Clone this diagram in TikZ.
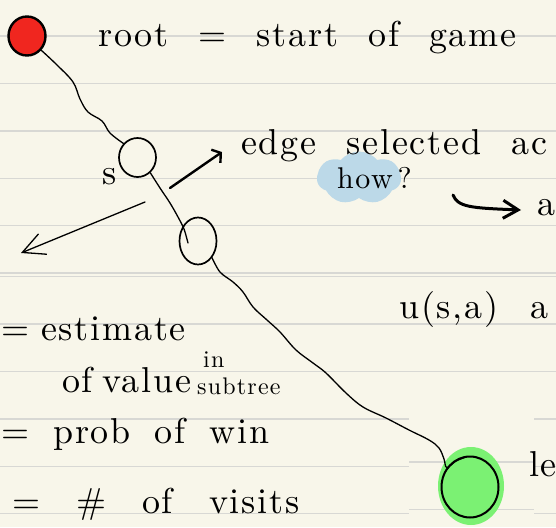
\documentclass[tikz,border=0pt]{standalone}
\usepackage{fontspec}
\usetikzlibrary{positioning, calc, shapes.geometric, shapes.symbols, arrows.meta}
\newfontfamily\hand{lmroman10-regular.otf}[LetterSpace=5]
\definecolor{paper}{HTML}{F8F6EA}
\definecolor{ruling}{HTML}{D8D8D4}
\definecolor{rootred}{HTML}{F0261F}
\definecolor{leafgreen}{HTML}{7BF173}
\definecolor{markblue}{HTML}{BCD9E8}

\begin{document}
\begin{tikzpicture}[
            x=1pt, y=-1pt,
            state/.style={ellipse, draw, line width=1.7pt, inner sep=0pt, minimum width=37pt, minimum height=39pt},
            rootstate/.style={state, fill=rootred, line width=2.4pt},
            leafstate/.style={state, line width=2pt, minimum width=57pt, minimum height=61pt},
            glow/.style={ellipse, fill=leafgreen, inner sep=0pt, minimum width=66pt, minimum height=78pt},
            highlight/.style={cloud, cloud puffs=7, cloud puff arc=100, aspect=1.6, fill=markblue, inner sep=0pt, minimum width=84pt, minimum height=53pt},
            handtext/.style={anchor=base west, inner sep=0pt, font=\hand\fontsize{36}{40}\selectfont\spaceskip #1\relax},
            handtext/.default=28pt,
            smalltext/.style={anchor=base west, inner sep=0pt, font=\hand\fontsize{24}{28}\selectfont},
            wire/.style={line width=1.3pt, line cap=round, line join=round},
            backarrow/.style={wire, -{Straight Barb[length=22pt, width=22pt]}},
            edgearrow/.style={wire, line width=2.4pt, -{Straight Barb[length=6pt, width=16pt]}},
            hookarrow/.style={wire, line width=3pt, -{Straight Barb[length=15pt, width=18pt]}},
            rule/.style={ruling, line width=1.4pt}
        ]
            % --- Paper ---
            \useasboundingbox (0,0) rectangle (556,527);
            \fill[paper] (0,0) rectangle (556,527);
            \clip (0,0) rectangle (556,527);
            \foreach \k in {0,...,5} {
              \draw[rule] (0,36+47.4*\k) -- (556,36+47.4*\k);
              \draw[rule] (0,276.7+47.4*\k) -- (556,276.7+47.4*\k);
            }
            \fill[paper] (409,417) rectangle (534,527);
            \foreach \y in {462,509.3} \draw[rule] (409,\y) -- (534,\y);

            % --- Node Placement ---
            \node[rootstate] (root) at (27,36) {};
            \node[state] (s) at (137.5,157.5) {};
            \node[state, minimum height=47pt] (next) at (198,241) {};
            \node[glow] (leafglow) at (471,486) {};
            \node[leafstate] (leaf) at (470,487) {};
            \node[highlight] (blob) at (359,178) {};

            % --- Links ---
            \draw[wire] plot[smooth, tension=0.6] coordinates {(root.-45) (57,65) (73,82) (80,99) (88,112) (102,121) (110,133) (s.135)};
            \draw[wire] plot[smooth] coordinates {(s.-50) (160,188) (170,203) (178,217) (184,229) ([xshift=-10pt, yshift=-2pt]next.center)};
            \draw[wire] plot[smooth, tension=0.6] coordinates {(next.-50) (220,272) (233,282) (243,292) (253,307) (267,320) (280,332) (296,350) (313,363) (326,373) (346,393) (363,407) (386,418) (409,430) (429,440) (439,448) (444,459) (leaf.140) (456,461) (466,457)};

            % free arrows
            \coordinate (edgetail) at (170,188);
            \coordinate (edgetip) at (222,152);
            \coordinate (backtail) at (145,202);
            \coordinate (backtip) at (21,253);
            \coordinate (hooktail) at (453,195);
            \coordinate (hooktip) at (521,210);
            \draw[edgearrow] (edgetail) -- (edgetip);
            \draw[backarrow] (backtail) -- (backtip);
            \draw[hookarrow] (hooktail) .. controls (458,207) and (470,208) .. (hooktip);

            % --- Labels ---
            \node[handtext=30pt] (rootlabel) at (98,47) {root = start of game};
            \node[handtext] (slabel) at (102,184) {s};
            \node[handtext=30pt] (edgelabel) at (241,154) {edge selected ac};
            \node[handtext, font=\hand\fontsize{30}{34}\selectfont] (howlabel) at (337,188) {how\,?};
            \node[handtext] (alabel) at (537,215) {a};
            \node[handtext=32pt] (ulabel) at (399,318) {u(s,a) a};
            \node[handtext=12pt] (estlabel) at (1,340) {= estimate};
            \node[handtext=10pt] (vallabel) at (62,392) {of value};
            \node[smalltext] (inlabel) at (203,367) {in};
            \node[smalltext] (sublabel) at (197,394) {subtree};
            \node[handtext=24pt] (winlabel) at (1,443) {= prob of win};
            \node[handtext=36pt] (visitlabel) at (12,513) {= \# of visits};
            \node[handtext] (leaflabel) at (529,476) {le};
        \end{tikzpicture}
\end{document}
